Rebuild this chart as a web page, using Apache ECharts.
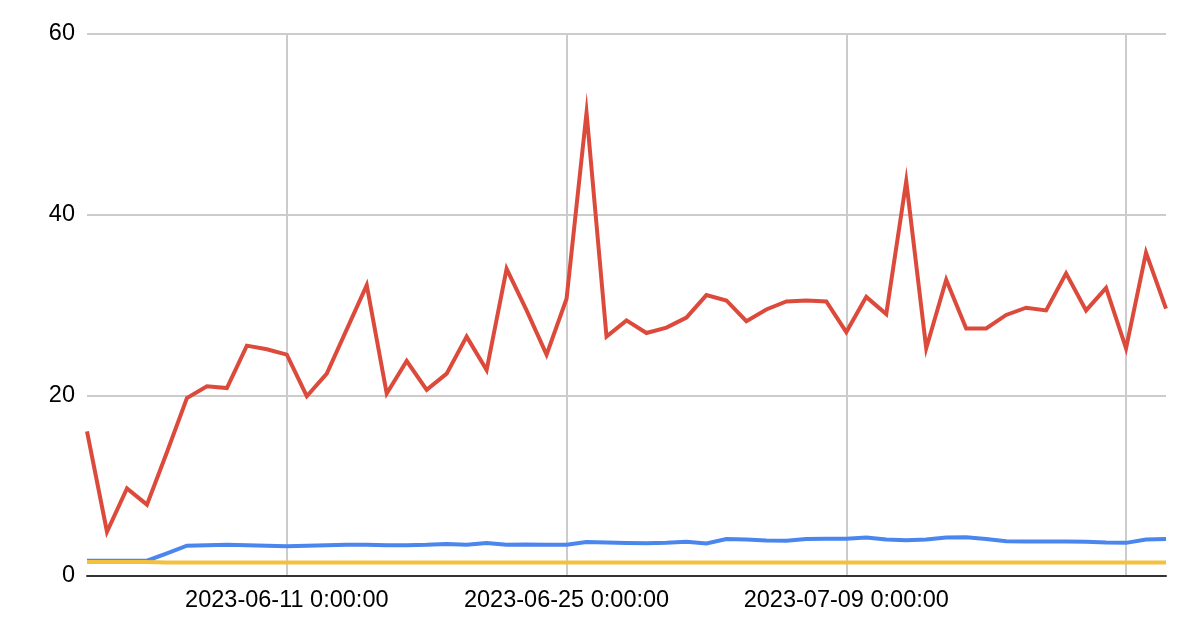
<!DOCTYPE html>
<html>
<head>
<meta charset="utf-8">
<script src="https://cdn.jsdelivr.net/npm/echarts@6/dist/echarts.min.js"></script>
<style>
html,body{margin:0;padding:0;background:#fff;}
#chart{width:1200px;height:637px;}
</style>
</head>
<body>
<div id="chart"></div>
<script>
const dates = [
  "2023-06-01","2023-06-02","2023-06-03","2023-06-04","2023-06-05","2023-06-06","2023-06-07",
  "2023-06-08","2023-06-09","2023-06-10","2023-06-11","2023-06-12","2023-06-13","2023-06-14",
  "2023-06-15","2023-06-16","2023-06-17","2023-06-18","2023-06-19","2023-06-20","2023-06-21",
  "2023-06-22","2023-06-23","2023-06-24","2023-06-25","2023-06-26","2023-06-27","2023-06-28",
  "2023-06-29","2023-06-30","2023-07-01","2023-07-02","2023-07-03","2023-07-04","2023-07-05",
  "2023-07-06","2023-07-07","2023-07-08","2023-07-09","2023-07-10","2023-07-11","2023-07-12",
  "2023-07-13","2023-07-14","2023-07-15","2023-07-16","2023-07-17","2023-07-18","2023-07-19",
  "2023-07-20","2023-07-21","2023-07-22","2023-07-23","2023-07-24","2023-07-25"
];
const blueValues = [
  1.7,1.7,1.7,1.7,2.5,3.35,3.4,3.45,3.4,3.35,3.3,3.35,3.4,3.45,
  3.45,3.4,3.4,3.45,3.55,3.45,3.65,3.45,3.5,3.45,3.45,3.75,3.7,3.65,
  3.63,3.67,3.78,3.6,4.1,4.05,3.93,3.9,4.1,4.12,4.12,4.25,4.04,3.95,
  4.04,4.25,4.3,4.1,3.86,3.82,3.82,3.82,3.78,3.7,3.67,4.04,4.1
];
const redValues = [
  16.0,4.9,9.7,7.9,13.7,19.7,21.0,20.8,25.5,25.1,24.5,19.9,22.4,27.3,
  32.2,20.2,23.8,20.6,22.4,26.5,22.8,34.0,29.4,24.5,30.7,51.3,26.5,28.3,
  26.9,27.5,28.6,31.1,30.5,28.2,29.5,30.4,30.5,30.4,27.0,30.9,29.0,43.7,
  25.2,32.8,27.4,27.4,28.9,29.7,29.4,33.5,29.4,31.9,25.2,35.8,29.6
];
const yellowValues = [
  1.55,1.55,1.55,1.55,1.5,1.5,1.5,1.5,1.5,1.5,1.5,1.5,1.5,1.5,
  1.5,1.5,1.5,1.5,1.5,1.5,1.5,1.5,1.5,1.5,1.5,1.5,1.5,1.5,
  1.5,1.5,1.5,1.5,1.5,1.5,1.5,1.5,1.5,1.5,1.5,1.5,1.5,1.5,
  1.5,1.5,1.5,1.5,1.5,1.5,1.5,1.5,1.5,1.5,1.5,1.5,1.5
];
const gridDates = ["2023-06-11","2023-06-25","2023-07-09","2023-07-23"];
const labelDates = ["2023-06-11","2023-06-25","2023-07-09"];
const yTicks = {min: 0, max: 60, interval: 20};

const chart = echarts.init(document.getElementById('chart'), null, {renderer: 'canvas'});
const font = '"Liberation Sans", Arial, sans-serif';
function line(name, data, color, width) {
  return {
    name, type: 'line', data,
    symbol: 'none', smooth: false, animation: false,
    lineStyle: {color, width, join: 'miter', miterLimit: 20, cap: 'butt'},
    itemStyle: {color}
  };
}
chart.setOption({
  animation: false,
  backgroundColor: '#ffffff',
  grid: {left: 87, right: 34, top: 34, bottom: 61, containLabel: false},
  xAxis: {
    type: 'category',
    data: dates,
    boundaryGap: false,
    axisLine: {show: true, onZero: true, lineStyle: {color: '#333333', width: 2}},
    axisTick: {show: false},
    axisLabel: {
      interval: (i, v) => labelDates.includes(v),
      formatter: v => v + ' 0:00:00',
      color: '#000000', fontSize: 23.5, fontFamily: font, margin: 13
    },
    splitLine: {
      show: true,
      interval: (i, v) => gridDates.includes(v),
      lineStyle: {color: '#cccccc', width: 2}
    }
  },
  yAxis: {
    type: 'value',
    min: yTicks.min, max: yTicks.max, interval: yTicks.interval,
    axisLine: {show: false},
    axisTick: {show: false},
    axisLabel: {color: '#000000', fontSize: 23.5, fontFamily: font, margin: 12},
    splitLine: {lineStyle: {color: '#cccccc', width: 2}}
  },
  series: [
    line('Blue', blueValues, '#4a86ee', 4),
    line('Red', redValues, '#dc4a3c', 4),
    line('Yellow', yellowValues, '#f4c13e', 4)
  ]
});
</script>
</body>
</html>
